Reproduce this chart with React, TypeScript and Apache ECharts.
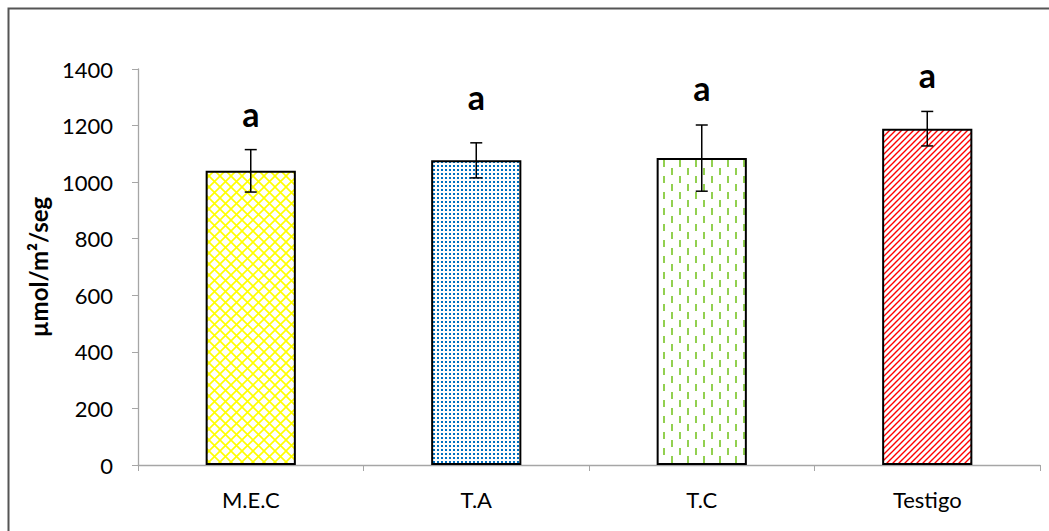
import React, { useEffect, useRef } from "react";
import * as echarts from "echarts";

// Treatments and measured values (µmol/m²/seg)
const categories = ["M.E.C", "T.A", "T.C", "Testigo"];
const means = [1040, 1077, 1085, 1189];
const errors = [75, 62, 117, 61];
// significance letters and the level (in axis units) where each one sits
const letters = ["a", "a", "a", "a"];
const letterLevels = [1234, 1297, 1329, 1375];
const yTicks = { min: 0, max: 1400, interval: 200 };

const FONT = "Lato, 'Open Sans', sans-serif";

function makeTile(size: number, draw: (ctx: CanvasRenderingContext2D) => void) {
  const c = document.createElement("canvas");
  c.width = size;
  c.height = size;
  const ctx = c.getContext("2d")!;
  ctx.fillStyle = "#ffffff";
  ctx.fillRect(0, 0, size, size);
  draw(ctx);
  return c;
}

function buildPatterns() {
  // yellow diamond lattice
  const lattice = makeTile(11, (ctx) => {
    ctx.strokeStyle = "#FFFF00";
    ctx.lineWidth = 1.6;
    ctx.beginPath();
    ctx.moveTo(-1, -1);
    ctx.lineTo(12, 12);
    ctx.moveTo(12, -1);
    ctx.lineTo(-1, 12);
    ctx.stroke();
  });
  // blue dotted grid
  const dots = makeTile(4, (ctx) => {
    ctx.fillStyle = "#0070C0";
    ctx.fillRect(1, 1, 2, 2);
  });
  // green staggered vertical dashes
  const dashes = makeTile(16, (ctx) => {
    ctx.fillStyle = "#92D050";
    ctx.fillRect(7, 0, 2, 7);
    ctx.fillRect(15, 8, 2, 7);
    ctx.fillRect(-1, 8, 2, 7);
  });
  // red forward diagonals
  const diag = makeTile(6, (ctx) => {
    ctx.strokeStyle = "#FF0000";
    ctx.lineWidth = 1.4;
    ctx.beginPath();
    ctx.moveTo(-1, 7);
    ctx.lineTo(7, -1);
    ctx.moveTo(-7, 7);
    ctx.lineTo(1, -1);
    ctx.moveTo(5, 7);
    ctx.lineTo(13, -1);
    ctx.stroke();
  });
  return [lattice, dots, dashes, diag];
}

export default function App() {
  const ref = useRef<HTMLDivElement>(null);

  useEffect(() => {
    if (!ref.current) return;
    const chart = echarts.init(ref.current, undefined, { renderer: "svg" });
    const tiles = buildPatterns();

    const barData = means.map((v, i) => ({
      value: v,
      itemStyle: {
        color: { image: tiles[i], repeat: "repeat" } as any,
        borderColor: "#000",
        borderWidth: 2,
      },
    }));

    const errData = means.map((v, i) => [i, v - errors[i], v + errors[i], letterLevels[i]]);

    chart.setOption({
      animation: false,
      graphic: [
        {
          type: "rect",
          left: 6,
          top: 6,
          shape: { width: 1200, height: 700 },
          style: { fill: "none", stroke: "#555", lineWidth: 2 },
          silent: true,
        },
      ],
      grid: { left: 138, right: 9, top: 69, bottom: 66 },
      xAxis: {
        type: "category",
        data: categories,
        axisLine: { lineStyle: { color: "#A6A6A6", width: 1.3 } },
        axisTick: { show: true, length: 6, alignWithLabel: false, lineStyle: { color: "#A6A6A6" } },
        axisLabel: { color: "#000", fontSize: 22, fontFamily: FONT, margin: 23 },
      },
      yAxis: {
        type: "value",
        min: yTicks.min,
        max: yTicks.max,
        interval: yTicks.interval,
        name: "µmol/m²/seg",
        nameLocation: "middle",
        nameGap: 88,
        nameTextStyle: { color: "#000", fontSize: 24, fontWeight: "bold", fontFamily: FONT },
        axisLine: { show: true, lineStyle: { color: "#A6A6A6", width: 1.3 } },
        axisTick: { show: true, inside: false, length: 6, lineStyle: { color: "#A6A6A6" } },
        axisLabel: {
          color: "#000",
          fontSize: 22,
          fontFamily: FONT,
          margin: 25,
          formatter: (v: number) => String(v),
        },
        splitLine: { show: false },
      },
      series: [
        {
          type: "bar",
          data: barData,
          barWidth: "40%",
          z: 2,
        },
        {
          type: "custom",
          z: 5,
          data: errData,
          clip: false,
          renderItem: (params: any, api: any) => {
            const x = api.coord([api.value(0), 0])[0];
            const lo = api.coord([api.value(0), api.value(1)])[1];
            const hi = api.coord([api.value(0), api.value(2)])[1];
            const ly = api.coord([api.value(0), api.value(3)])[1];
            const cap = 6;
            const style = { stroke: "#000", lineWidth: 1.5 };
            return {
              type: "group",
              children: [
                { type: "line", shape: { x1: x, y1: lo, x2: x, y2: hi }, style },
                { type: "line", shape: { x1: x - cap, y1: lo, x2: x + cap, y2: lo }, style },
                { type: "line", shape: { x1: x - cap, y1: hi, x2: x + cap, y2: hi }, style },
                {
                  type: "text",
                  x: x,
                  y: ly - 2,
                  style: {
                    text: letters[params.dataIndex],
                    fill: "#000",
                    font: `bold 34px ${FONT}`,
                    textAlign: "center",
                    textVerticalAlign: "middle",
                  },
                },
              ],
            };
          },
        },
      ],
    });

    return () => chart.dispose();
  }, []);

  return (
    <div
      ref={ref}
      style={{ position: "fixed", left: 0, top: 0, width: 1049, height: 531, background: "#fff" }}
    />
  );
}
